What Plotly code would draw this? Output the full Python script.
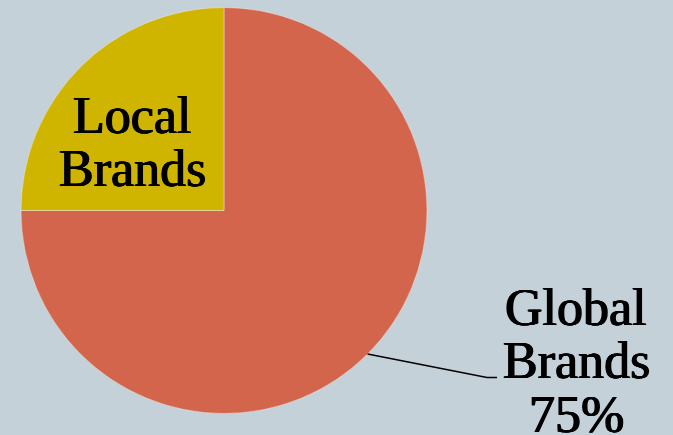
import math
import plotly.graph_objects as go

# Market share of brands
labels = ["Global Brands", "Local Brands"]
values = [75, 25]
colors = ["#D2654B", "#CFB400"]

W, H = 673, 435
BG = "#C5D1D8"
FONT = "Liberation Serif, Times New Roman, serif"
FS = 52
# slight outline to give the serif labels a heavier stroke
HEAVY = "0.7px 0 0 black, -0.7px 0 0 black, 0 0.4px 0 black"

# pie geometry in pixels (margins are zero, so paper == page)
cx, cy, r = 224, 210.5, 203

def px(x):
    return x / W

def py(y):
    return 1 - y / H

fig = go.Figure(go.Pie(
    labels=labels,
    values=values,
    sort=False,
    direction="clockwise",
    rotation=0,
    marker=dict(colors=colors, line=dict(color="rgba(255,255,255,0.35)", width=1)),
    textinfo="none",
    hoverinfo="skip",
    showlegend=False,
    domain=dict(x=[px(cx - r), px(cx + r)], y=[py(cy + r), py(cy - r)]),
))

total = sum(values)
label_font = dict(family=FONT, size=FS, color="black", shadow=HEAVY)

# Local Brands: label inside its slice, one annotation per line
local_lines = labels[1].split(" ")
local_y = [115, 168]
for line, yy in zip(local_lines, local_y):
    fig.add_annotation(x=px(132), y=py(yy), xref="paper", yref="paper",
                       text=line, showarrow=False, xanchor="center", yanchor="middle",
                       font=label_font)

# Global Brands: label outside with leader line from the slice midpoint
global_lines = labels[0].split(" ") + [f"{round(values[0] / total * 100)}%"]
global_y = [307, 360, 414]
for line, yy in zip(global_lines, global_y):
    fig.add_annotation(x=px(576), y=py(yy), xref="paper", yref="paper",
                       text=line, showarrow=False, xanchor="center", yanchor="middle",
                       font=label_font)

theta = 2 * math.pi * (values[0] / 2) / total  # clockwise from 12 o'clock
sx = cx + r * math.sin(theta)
sy = cy - r * math.cos(theta)
elbow = (487, 377.5)
end = (497, 377.5)
path = (f"M {px(sx)},{py(sy)} L {px(elbow[0])},{py(elbow[1])} "
        f"L {px(end[0])},{py(end[1])}")
fig.add_shape(type="path", path=path, xref="paper", yref="paper",
              line=dict(color="black", width=1.5))

fig.update_layout(
    width=W, height=H,
    margin=dict(l=0, r=0, t=0, b=0),
    paper_bgcolor=BG,
    plot_bgcolor=BG,
)

fig.write_html("out.html")
